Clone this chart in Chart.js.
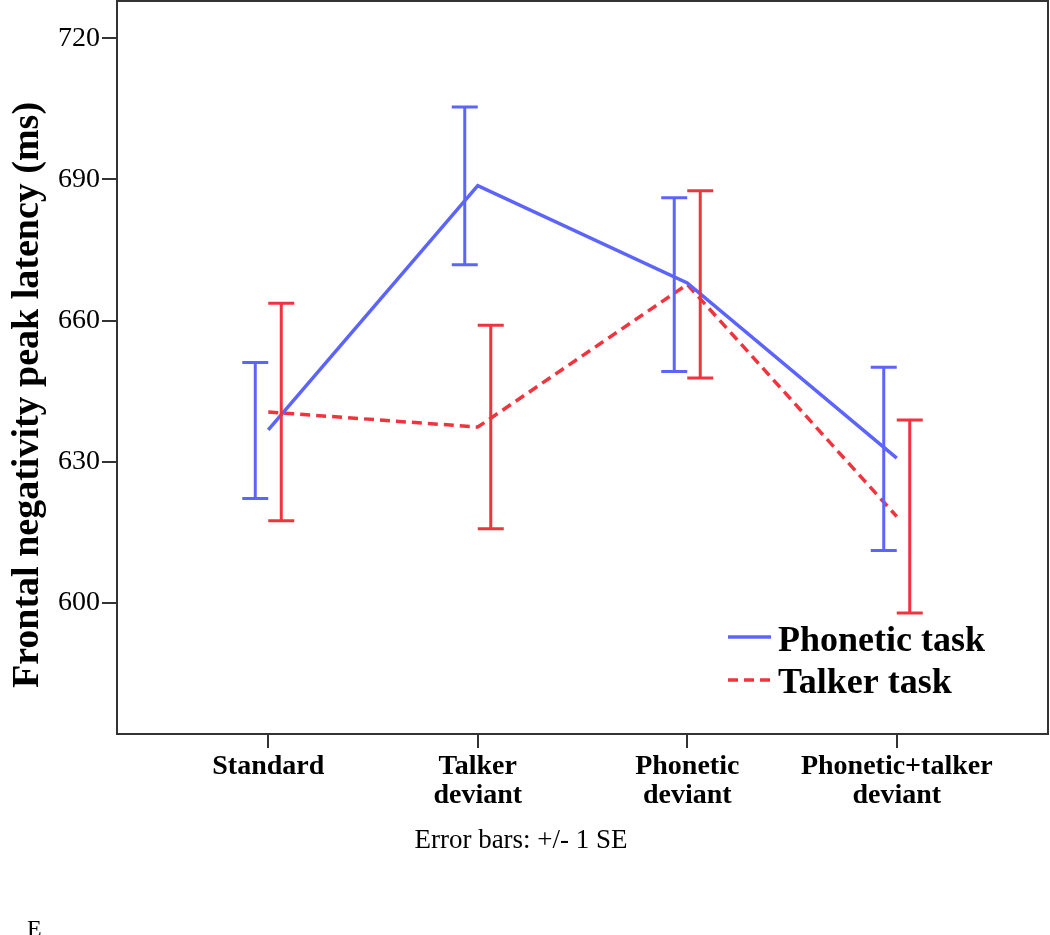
<!DOCTYPE html>
<html>
<head>
<meta charset="utf-8">
<script src="https://cdn.jsdelivr.net/npm/chart.js@4.4.0/dist/chart.umd.min.js"></script>
<style>
  html, body { margin: 0; padding: 0; background: #fff; }
  #wrap { width: 1050px; height: 935px; }
</style>
</head>
<body>
<div id="wrap"><canvas id="myChart" width="1050" height="935"></canvas></div>
<script>
// data
var categories = [['Standard'], ['Talker', 'deviant'], ['Phonetic', 'deviant'], ['Phonetic+talker', 'deviant']];
var phoneticMean = [636.8, 688.7, 668.0, 630.8];
var phoneticLow  = [622.2, 671.9, 649.2, 611.2];
var phoneticHigh = [651.1, 705.4, 686.1, 650.1];
var talkerMean = [640.6, 637.4, 667.7, 618.4];
var talkerLow  = [617.5, 615.8, 647.8, 597.9];
var talkerHigh = [663.7, 659.0, 687.6, 638.9];
var yTicks = [600, 630, 660, 690, 720];

var blue = 'rgb(92, 100, 252)';
var red = 'rgb(240, 52, 62)';

Chart.defaults.font.family = 'Liberation Serif';
Chart.defaults.color = '#000';

function points(vals) {
    return vals.map(function (v, i) { return { x: i + 1, y: v }; });
}

// error bars, frame, axis title, legend and footnote
var extras = {
    id: 'extras',
    afterDatasetsDraw: function (chart) {
        var ctx = chart.ctx, xs = chart.scales.x, ys = chart.scales.y;
        var a = chart.chartArea;
        function bars(low, high, shift, color) {
            ctx.save();
            ctx.strokeStyle = color;
            ctx.lineWidth = 3;
            for (var i = 0; i < low.length; i++) {
                var px = xs.getPixelForValue(i + 1) + shift;
                var y1 = ys.getPixelForValue(low[i]);
                var y2 = ys.getPixelForValue(high[i]);
                ctx.beginPath();
                ctx.moveTo(px, y1); ctx.lineTo(px, y2);
                ctx.moveTo(px - 13, y1); ctx.lineTo(px + 13, y1);
                ctx.moveTo(px - 13, y2); ctx.lineTo(px + 13, y2);
                ctx.stroke();
            }
            ctx.restore();
        }
        bars(phoneticLow, phoneticHigh, -13, blue);
        bars(talkerLow, talkerHigh, 13, red);

        // frame
        ctx.save();
        ctx.strokeStyle = '#333';
        ctx.lineWidth = 2;
        ctx.strokeRect(a.left, a.top, a.right - a.left, a.bottom - a.top);
        ctx.restore();

        // y title
        ctx.save();
        ctx.translate(38, 395);
        ctx.rotate(-Math.PI / 2);
        ctx.font = 'bold 38px "Liberation Serif"';
        ctx.fillStyle = '#000';
        ctx.textAlign = 'center';
        ctx.fillText('Frontal negativity peak latency (ms)', 0, 0);
        ctx.restore();

        // legend
        ctx.save();
        ctx.font = 'bold 36px "Liberation Serif"';
        ctx.fillStyle = '#000';
        ctx.lineWidth = 3.5;
        ctx.strokeStyle = blue;
        ctx.beginPath(); ctx.moveTo(728, 637); ctx.lineTo(771, 637); ctx.stroke();
        ctx.fillText('Phonetic task', 778, 651);
        ctx.strokeStyle = red;
        ctx.setLineDash([10, 6]);
        ctx.beginPath(); ctx.moveTo(728, 680); ctx.lineTo(771, 680); ctx.stroke();
        ctx.setLineDash([]);
        ctx.fillText('Talker task', 778, 693);
        ctx.restore();

        // footnote
        ctx.save();
        ctx.font = '27px "Liberation Serif"';
        ctx.fillStyle = '#000';
        ctx.textAlign = 'center';
        ctx.fillText('Error bars: +/- 1 SE', 521, 848);
        ctx.font = '24px "Liberation Serif"';
        ctx.textAlign = 'left';
        ctx.fillText('E', 27, 936);
        ctx.restore();
    }
};

var myChart = document.getElementById('myChart').getContext('2d');
var chart = new Chart(myChart, {
    type: 'line',
    data: {
        datasets: [{
            label: 'Phonetic task',
            data: points(phoneticMean),
            borderColor: blue,
            borderWidth: 3.5,
            pointRadius: 0,
            fill: false
        }, {
            label: 'Talker task',
            data: points(talkerMean),
            borderColor: red,
            borderWidth: 3.5,
            borderDash: [10, 6],
            pointRadius: 0,
            fill: false
        }]
    },
    options: {
        responsive: false,
        animation: false,
        layout: { padding: { top: 1, right: 2, left: 0, bottom: 0 } },
        plugins: {
            legend: { display: false },
            tooltip: { enabled: false }
        },
        scales: {
            x: {
                type: 'linear',
                min: 0.278,
                max: 4.722,
                afterBuildTicks: function (s) {
                    s.ticks = categories.map(function (c, i) { return { value: i + 1 }; });
                },
                afterFit: function (s) { s.height = 201; s.paddingLeft = 0; s.paddingRight = 0; },
                border: { display: false },
                grid: { drawOnChartArea: false, drawTicks: true, tickLength: 14, color: '#333', lineWidth: 2 },
                ticks: {
                    autoSkip: false,
                    maxRotation: 0,
                    padding: 4,
                    font: { size: 28, weight: 'bold', lineHeight: 1.05 },
                    color: '#000',
                    callback: function (v) { return categories[v - 1]; }
                }
            },
            y: {
                min: 572.2,
                max: 727.9,
                afterBuildTicks: function (s) {
                    s.ticks = yTicks.map(function (v) { return { value: v }; });
                },
                afterFit: function (s) { s.width = 117; s.paddingTop = 0; s.paddingBottom = 0; },
                border: { display: false },
                grid: { drawOnChartArea: false, drawTicks: true, tickLength: 15, color: '#333', lineWidth: 2 },
                ticks: {
                    padding: 2,
                    font: { size: 28 },
                    color: '#000'
                }
            }
        }
    },
    plugins: [extras]
});
</script>
</body>
</html>
